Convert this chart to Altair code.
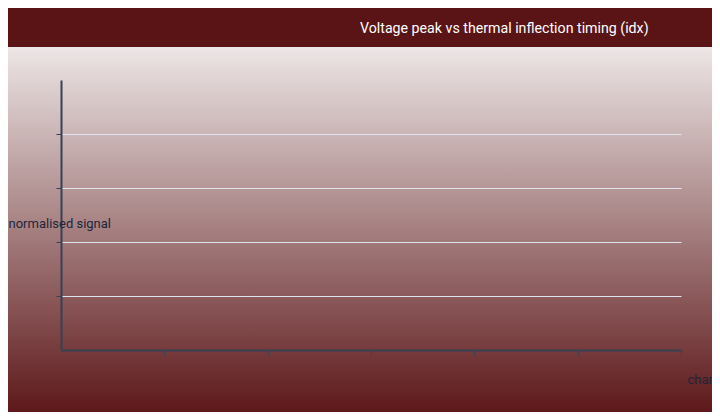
import altair as alt
import pandas as pd

# axis ticks (no labels shown in the reference)
x_ticks = [1, 2, 3, 4, 5, 6]
y_ticks = [1, 2, 3, 4]
x_domain = [0, 6]
y_domain = [0, 5]

# no data points are drawn in the reference
charge = []
signal = []

title_text = "Voltage peak vs thermal inflection timing (idx)"
x_title = "charge index"
y_title = "normalised signal"

pts = alt.Data(values=[{"charge": c, "signal": s} for c, s in zip(charge, signal)])
bg_row = alt.Data(values=[{"k": 0}])

backdrop = alt.Chart(bg_row).mark_rect(
    color=alt.Gradient(
        gradient="linear",
        x1=0, y1=0, x2=0, y2=1,
        stops=[
            alt.GradientStop(offset=0, color="#ede6e6"),
            alt.GradientStop(offset=1, color="#5a1416"),
        ],
    )
).encode(
    x=alt.value(-61), x2=alt.value(660),
    y=alt.value(-33), y2=alt.value(340),
)

points = alt.Chart(pts).mark_point().encode(
    x=alt.X("charge:Q", scale=alt.Scale(domain=x_domain, nice=False),
            axis=alt.Axis(values=x_ticks, labels=False, grid=False, title=x_title,
                          titleX=626, titleY=33, titleAlign="left",
                          titleBaseline="alphabetic", zindex=1)),
    y=alt.Y("signal:Q", scale=alt.Scale(domain=y_domain, nice=False),
            axis=alt.Axis(values=y_ticks, labels=False, grid=True, title=y_title,
                          titleAngle=0, titleX=-53, titleY=143, titleAlign="left",
                          titleBaseline="middle", zindex=1)),
)

page_css = (
    "html{min-height:100%;background:#5a1416 linear-gradient(180deg,#5a1416 0px,"
    "#5a1416 47px,#ede6e6 47px,#5a1416 420px) no-repeat 0 0/100% 420px;}"
)

chart = alt.layer(backdrop, points).properties(
    width=620, height=270,
    title=alt.TitleParams(title_text, anchor="start", frame="group", dx=299,
                          baseline="alphabetic", offset=0, color="#ffffff",
                          font="Roboto", fontSize=14.2, fontWeight="normal"),
    autosize=alt.AutoSizeParams(type="none"),
    padding={"left": 53, "top": 72, "right": 31, "bottom": 62},
    background="#5a1416",
    usermeta={"embedOptions": {"defaultStyle": page_css}},
).configure_view(stroke=None).configure_axis(
    zindex=1,
    domainColor="#374152", domainWidth=2,
    tickColor="#374152", tickSize=5, tickWidth=1,
    gridColor="#dfe5ee", gridWidth=1,
    titleColor="#1e2538", titleFont="Roboto", titleFontSize=13, titleFontWeight="normal",
)

chart.save("out.html", embed_options={"renderer": "svg", "actions": False})
